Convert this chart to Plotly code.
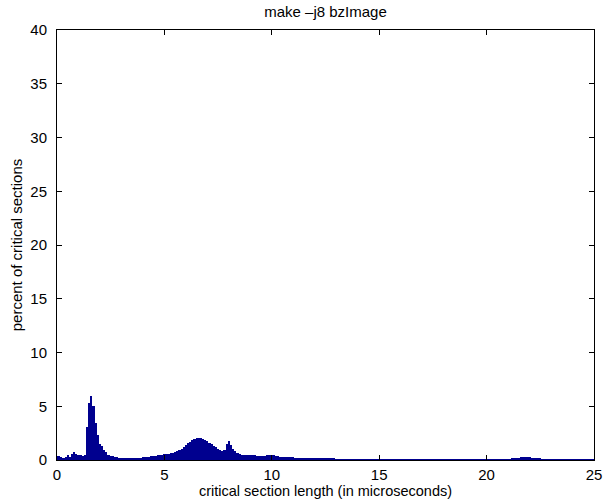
import plotly.graph_objects as go

# Histogram bin centres (microseconds), 0.1 us wide bins from 0 to 25
bin_centers = [round(i * 0.1, 1) for i in range(251)]

# Percent of critical sections falling in each bin
percent = [
    # 0.0 - 0.9
    0.35, 0.35, 0.30, 0.15, 0.30, 0.50, 0.25, 0.55, 0.70, 0.60,
    # 1.0 - 1.9
    0.45, 0.42, 0.40, 0.45, 3.10, 5.30, 6.00, 5.00, 3.40, 2.35,
    # 2.0 - 2.9
    1.50, 1.30, 0.95, 0.70, 0.50, 0.40, 0.33, 0.28, 0.25, 0.22,
    # 3.0 - 3.9
    0.20, 0.20, 0.19, 0.19, 0.19, 0.20, 0.20, 0.21, 0.22, 0.23,
    # 4.0 - 4.9
    0.25, 0.27, 0.29, 0.31, 0.33, 0.36, 0.39, 0.42, 0.45, 0.48,
    # 5.0 - 5.9
    0.52, 0.56, 0.60, 0.64, 0.68, 0.73, 0.80, 0.90, 1.02, 1.17,
    # 6.0 - 6.9
    1.35, 1.55, 1.72, 1.86, 1.97, 2.04, 2.07, 2.04, 1.98, 1.88,
    # 7.0 - 7.9
    1.76, 1.62, 1.48, 1.34, 1.20, 1.06, 0.95, 0.88, 0.95, 1.45,
    # 8.0 - 8.9
    1.75, 1.40, 1.00, 0.80, 0.65, 0.55, 0.50, 0.47, 0.45, 0.44,
    # 9.0 - 9.9
    0.43, 0.42, 0.42, 0.41, 0.41, 0.40, 0.40, 0.40, 0.42, 0.47,
    # 10.0 - 10.9
    0.50, 0.42, 0.36, 0.34, 0.32, 0.30, 0.28, 0.27, 0.26, 0.25,
    # 11.0 - 11.9
    0.24, 0.22, 0.20, 0.19, 0.18, 0.17, 0.16, 0.15, 0.15, 0.14,
    # 12.0 - 12.9
    0.14, 0.13, 0.13, 0.12, 0.12, 0.11, 0.11, 0.10, 0.10, 0.10,
    # 13.0 - 13.9
    0.09, 0.09, 0.09, 0.08, 0.08, 0.08, 0.08, 0.07, 0.07, 0.07,
    # 14.0 - 14.9
    0.07, 0.07, 0.06, 0.06, 0.06, 0.06, 0.06, 0.06, 0.06, 0.06,
    # 15.0 - 15.9
    0.06, 0.06, 0.06, 0.05, 0.05, 0.05, 0.05, 0.05, 0.05, 0.05,
    # 16.0 - 16.9
    0.05, 0.05, 0.05, 0.05, 0.05, 0.05, 0.05, 0.05, 0.05, 0.05,
    # 17.0 - 17.9
    0.05, 0.05, 0.05, 0.05, 0.05, 0.04, 0.04, 0.04, 0.04, 0.04,
    # 18.0 - 18.9
    0.04, 0.04, 0.04, 0.04, 0.04, 0.04, 0.04, 0.04, 0.04, 0.04,
    # 19.0 - 19.9
    0.04, 0.04, 0.04, 0.04, 0.04, 0.04, 0.04, 0.04, 0.04, 0.04,
    # 20.0 - 20.9
    0.04, 0.04, 0.04, 0.04, 0.04, 0.05, 0.05, 0.05, 0.05, 0.06,
    # 21.0 - 21.9
    0.07, 0.08, 0.10, 0.14, 0.18, 0.22, 0.25, 0.27, 0.28, 0.27,
    # 22.0 - 22.9
    0.25, 0.22, 0.18, 0.15, 0.12, 0.10, 0.09, 0.08, 0.07, 0.06,
    # 23.0 - 23.9
    0.05, 0.05, 0.05, 0.05, 0.04, 0.04, 0.04, 0.04, 0.04, 0.04,
    # 24.0 - 25.0
    0.04, 0.04, 0.04, 0.04, 0.04, 0.04, 0.04, 0.04, 0.04, 0.04,
    0.04,
]

x_ticks = [0, 5, 10, 15, 20, 25]
y_ticks = [0, 5, 10, 15, 20, 25, 30, 35, 40]

font_family = "Liberation Sans, Arial, Helvetica, sans-serif"
font_size = 15

fig = go.Figure(
    go.Bar(
        x=bin_centers,
        y=percent,
        width=0.1,
        marker=dict(color="#00008F", line=dict(width=0)),
    )
)

axis_common = dict(
    showline=True,
    linecolor="black",
    linewidth=1,
    mirror="ticks",
    ticks="inside",
    ticklen=5,
    tickcolor="black",
    showgrid=False,
    zeroline=False,
    automargin=False,
    tickfont=dict(family=font_family, size=font_size, color="black"),
)

fig.update_layout(
    width=613,
    height=502,
    margin=dict(l=57, r=19, t=30, b=42),
    paper_bgcolor="white",
    plot_bgcolor="white",
    bargap=0,
    showlegend=False,
    font=dict(family=font_family, size=font_size, color="black"),
    title=dict(
        text="make \u2013j8 bzImage",
        x=0.5,
        xanchor="center",
        xref="paper",
        y=1 - 12 / 502,
        yanchor="middle",
        automargin=False,
        font=dict(family=font_family, size=font_size, color="black"),
    ),
    xaxis=dict(
        range=[0, 25],
        tickvals=x_ticks,
        ticktext=[str(v) for v in x_ticks],
        ticklabelstandoff=1,
        **axis_common,
    ),
    yaxis=dict(
        range=[0, 40],
        tickvals=y_ticks,
        ticktext=[str(v) for v in y_ticks],
        ticklabelstandoff=6,
        title=dict(text="percent of critical sections", standoff=4,
                   font=dict(family=font_family, size=font_size)),
        **axis_common,
    ),
    annotations=[
        dict(
            text="critical section length (in microseconds)",
            xref="paper",
            yref="paper",
            x=0.5,
            y=-31 / 430,
            xanchor="center",
            yanchor="middle",
            showarrow=False,
            font=dict(family=font_family, size=14.5, color="black"),
        )
    ],
)

fig.write_html("out.html")
